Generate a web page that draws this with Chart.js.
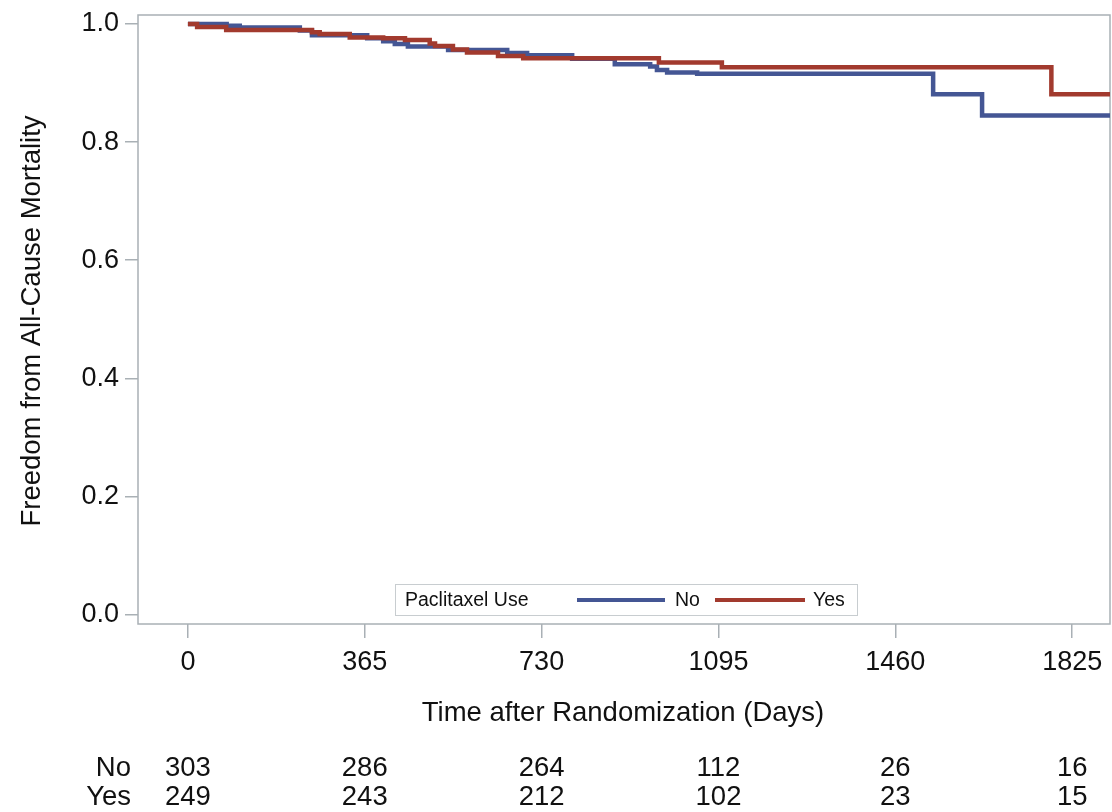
<!DOCTYPE html>
<html>
<head>
<meta charset="utf-8">
<script src="https://cdn.jsdelivr.net/npm/chart.js@4.4.1/dist/chart.umd.min.js"></script>
<style>
  body { margin: 0; background: #fff; }
  #wrap { width: 1112px; height: 812px; }
</style>
</head>
<body>
<div id="wrap"><canvas id="kmChart"></canvas></div>
<script>
// Kaplan-Meier steps
const noTimes = [0, 80, 107, 231, 256, 370, 403, 427, 454, 537, 659, 700, 793, 881, 954, 968, 989, 1051, 1538, 1639, 1903];
const noSurv = [1.000, 0.997, 0.994, 0.989, 0.981, 0.976, 0.971, 0.966, 0.962, 0.956, 0.951, 0.947, 0.941, 0.932, 0.928, 0.922, 0.918, 0.916, 0.881, 0.845, 0.845];
const yesTimes = [0, 19, 79, 256, 272, 334, 403, 448, 499, 510, 547, 576, 640, 692, 972, 1102, 1782, 1903];
const yesSurv = [1.000, 0.995, 0.990, 0.986, 0.983, 0.977, 0.976, 0.973, 0.967, 0.963, 0.957, 0.952, 0.946, 0.942, 0.935, 0.927, 0.881, 0.881];

// axis ticks and numbers at risk
const dayTicks = [0, 365, 730, 1095, 1460, 1825];
const survTicks = [0, 0.2, 0.4, 0.6, 0.8, 1.0];
const atRiskNo = [303, 286, 264, 112, 26, 16];
const atRiskYes = [249, 243, 212, 102, 23, 15];

const blue = "#445694";
const red = "#A23A2E";
const frameColor = "#A9B0B5";
const textColor = "#111";
const fontFamily = "'Liberation Sans', Arial, sans-serif";

function toPoints(times, vals) {
    return times.map((t, i) => ({ x: t, y: vals[i] }));
}

const extras = {
    id: "extras",
    beforeDatasetsDraw(chart) {
        const { ctx, chartArea: a } = chart;
        ctx.save();
        ctx.strokeStyle = frameColor;
        ctx.lineWidth = 1.5;
        ctx.strokeRect(a.left, a.top, a.right - a.left, a.bottom - a.top);
        ctx.restore();
    },
    afterDraw(chart) {
        const ctx = chart.ctx;
        const xs = chart.scales.x;
        ctx.save();
        ctx.fillStyle = textColor;

        // axis titles
        ctx.font = "27.5px " + fontFamily;
        ctx.textAlign = "center";
        ctx.textBaseline = "middle";
        ctx.fillText("Time after Randomization (Days)", 623, 713);
        ctx.save();
        ctx.translate(32, 321);
        ctx.rotate(-Math.PI / 2);
        ctx.fillText("Freedom from All-Cause Mortality", 0, 0);
        ctx.restore();

        // numbers at risk
        ctx.textAlign = "right";
        ctx.fillText("No", 131, 768);
        ctx.fillText("Yes", 131, 797);
        ctx.textAlign = "center";
        dayTicks.forEach((d, i) => {
            const px = xs.getPixelForValue(d);
            ctx.fillText(String(atRiskNo[i]), px, 768);
            ctx.fillText(String(atRiskYes[i]), px, 797);
        });

        // legend box
        ctx.fillStyle = "#fff";
        ctx.fillRect(395, 584, 462, 31);
        ctx.strokeStyle = "#C8CDD0";
        ctx.lineWidth = 1;
        ctx.strokeRect(395.5, 584.5, 462, 31);
        ctx.fillStyle = textColor;
        ctx.font = "19.5px " + fontFamily;
        ctx.textAlign = "left";
        ctx.fillText("Paclitaxel Use", 405, 601);
        ctx.lineWidth = 4;
        ctx.strokeStyle = blue;
        ctx.beginPath(); ctx.moveTo(577, 600); ctx.lineTo(665, 600); ctx.stroke();
        ctx.fillText("No", 675, 601);
        ctx.strokeStyle = red;
        ctx.beginPath(); ctx.moveTo(715, 600); ctx.lineTo(805, 600); ctx.stroke();
        ctx.fillText("Yes", 813, 601);
        ctx.restore();
    }
};

const ctx = document.getElementById("kmChart").getContext("2d");
const chart = new Chart(ctx, {
    type: "line",
    data: {
        datasets: [
            {
                label: "No",
                data: toPoints(noTimes, noSurv),
                borderColor: blue,
                borderWidth: 4.5,
                stepped: "before",
                pointRadius: 0,
                fill: false,
                order: 2
            },
            {
                label: "Yes",
                data: toPoints(yesTimes, yesSurv),
                borderColor: red,
                borderWidth: 4.5,
                stepped: "before",
                pointRadius: 0,
                fill: false,
                order: 1
            }
        ]
    },
    options: {
        responsive: true,
        maintainAspectRatio: false,
        animation: false,
        layout: { padding: { top: 15, right: 2, left: 0, bottom: 0 } },
        plugins: {
            legend: { display: false },
            tooltip: { enabled: false }
        },
        scales: {
            x: {
                type: "linear",
                min: -103,
                max: 1903,
                afterBuildTicks: (s) => { s.ticks = dayTicks.map(v => ({ value: v })); },
                afterFit: (s) => {
                    s.height = 812 - 624;
                    s.paddingLeft = 0; s.paddingRight = 0;
                },
                grid: { drawOnChartArea: false, drawTicks: true, tickLength: 14, color: frameColor, lineWidth: 1.5 },
                border: { display: false },
                ticks: {
                    maxRotation: 0,
                    padding: 8,
                    color: textColor,
                    font: { family: fontFamily, size: 27 },
                    callback: (v) => String(v)
                }
            },
            y: {
                type: "linear",
                min: -0.0161,
                max: 1.0153,
                afterBuildTicks: (s) => { s.ticks = survTicks.map(v => ({ value: v })); },
                afterFit: (s) => {
                    s.width = 138;
                    s.paddingTop = 0; s.paddingBottom = 0;
                },
                grid: { drawOnChartArea: false, drawTicks: true, tickLength: 13, color: frameColor, lineWidth: 1.5 },
                border: { display: false },
                ticks: {
                    padding: 6,
                    color: textColor,
                    font: { family: fontFamily, size: 27 },
                    callback: (v) => Number(v).toFixed(1)
                }
            }
        }
    },
    plugins: [extras]
});
</script>
</body>
</html>
